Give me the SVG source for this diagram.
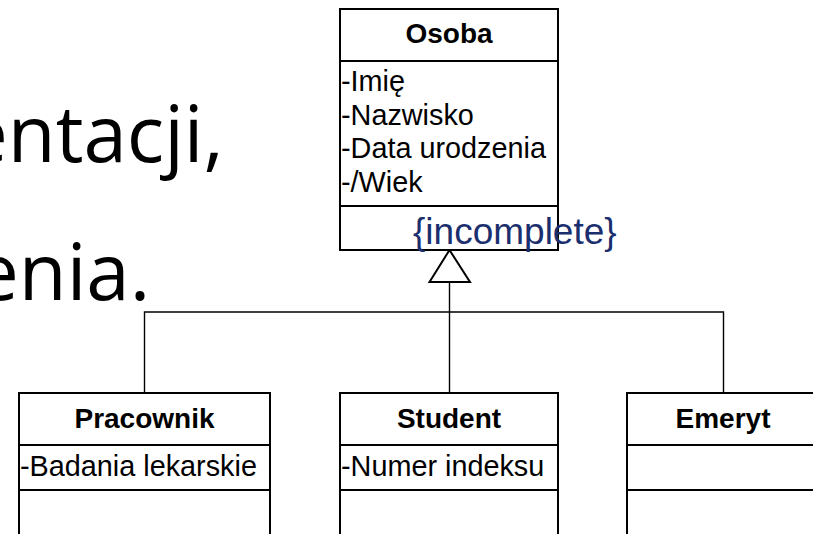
<svg xmlns="http://www.w3.org/2000/svg" width="813" height="534" viewBox="0 0 813 534">
<style>
.bg{font-family:"Open Sans","Noto Sans",sans-serif;font-size:78px;fill:#000}
.box{fill:#fff;stroke:#000;stroke-width:2}
.div{stroke:#000;stroke-width:2}
.title{font-family:"Liberation Sans",Arial,sans-serif;font-size:28px;font-weight:bold;fill:#000;text-anchor:middle}
.attr{font-family:"Liberation Sans",Arial,sans-serif;font-size:28.8px;fill:#000}
.conn{fill:none;stroke:#000;stroke-width:1.4}
.note{font-family:"Liberation Sans",Arial,sans-serif;font-size:37px;fill:#1B2F6E}
</style>
<rect width="813" height="534" fill="#fff"/>
<g id="background-text">
<text class="bg" x="-36" y="162">entacji,</text>
<text class="bg" x="-25" y="300">enia.</text>
</g>
<g id="connectors">
<polyline class="conn" points="144.5,393 144.5,312 723.5,312 723.5,393"/>
<line class="conn" x1="449.5" y1="282" x2="449.5" y2="393"/>
<polygon points="449.5,250 429.5,282 470,282" fill="#fff" stroke="#000" stroke-width="2"/>
</g>
<g id="osoba">
<rect class="box" x="340" y="9" width="218" height="241"/>
<line class="div" x1="340" y1="61" x2="558" y2="61"/>
<line class="div" x1="340" y1="206" x2="558" y2="206"/>
<text class="title" x="449" y="43">Osoba</text>
<text class="attr" x="341" y="91">-Imię</text>
<text class="attr" x="341" y="124.5">-Nazwisko</text>
<text class="attr" x="341" y="158">-Data urodzenia</text>
<text class="attr" x="341" y="191.5">-/Wiek</text>
</g>
<text id="incomplete" class="note" x="413" y="244">{incomplete}</text>
<g id="pracownik">
<rect class="box" x="19" y="393" width="251" height="170"/>
<line class="div" x1="19" y1="445" x2="270" y2="445"/>
<line class="div" x1="19" y1="490" x2="270" y2="490"/>
<text class="title" x="144.5" y="428">Pracownik</text>
<text class="attr" x="20" y="476">-Badania lekarskie</text>
</g>
<g id="student">
<rect class="box" x="340" y="393" width="218" height="170"/>
<line class="div" x1="340" y1="445" x2="558" y2="445"/>
<line class="div" x1="340" y1="490" x2="558" y2="490"/>
<text class="title" x="449" y="428">Student</text>
<text class="attr" x="341" y="476">-Numer indeksu</text>
</g>
<g id="emeryt">
<rect class="box" x="627" y="393" width="192" height="170"/>
<line class="div" x1="627" y1="445" x2="819" y2="445"/>
<line class="div" x1="627" y1="490" x2="819" y2="490"/>
<text class="title" x="723" y="428">Emeryt</text>
</g>
</svg>
